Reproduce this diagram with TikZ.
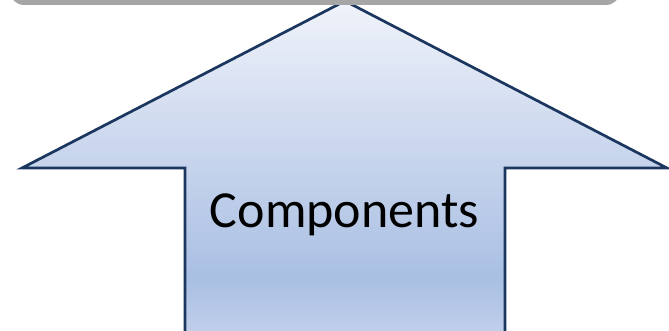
\documentclass[tikz,border=0pt]{standalone}
\usepackage{fontspec}
\setmainfont{Carlito}
\definecolor{arrowline}{HTML}{1B365F}
\definecolor{grayband}{HTML}{A6A6A6}
\definecolor{c1}{HTML}{F0F3FA}
\definecolor{c2}{HTML}{CCD8EE}
\definecolor{c3}{HTML}{A9BFE3}
\definecolor{c4}{HTML}{C0CFEA}
\definecolor{c5}{HTML}{C4D3EC}
\pgfdeclareverticalshading{arrowfill}{100bp}{%
  color(0bp)=(c5);
  color(25bp)=(c5);
  color(26.3bp)=(c4);
  color(34bp)=(c3);
  color(54.5bp)=(c2);
  color(75bp)=(c1);
  color(100bp)=(c1)}
\tikzset{
  bigarrow/.style={draw=arrowline, line width=2.7pt, line join=miter, shading=arrowfill},
  band/.style={fill=grayband, draw=none, rounded corners=14pt},
  label/.style={font=\fontsize{52}{60}\selectfont, text=black, anchor=base, inner sep=0pt}
}
\begin{document}
\begin{tikzpicture}[x=1pt,y=1pt]
\useasboundingbox (0,0) rectangle (669,-331);
\clip (0,0) rectangle (669,-331);
\path[bigarrow] (345,-1) -- (667,-168) -- (505,-168) -- (505,-340) -- (185,-340) -- (185,-168) -- (22,-168) -- cycle;
\path[band] (10,-5) rectangle (620,40);
\node[label] (lbl) at (344.5,-227) {Components};
\end{tikzpicture}
\end{document}
